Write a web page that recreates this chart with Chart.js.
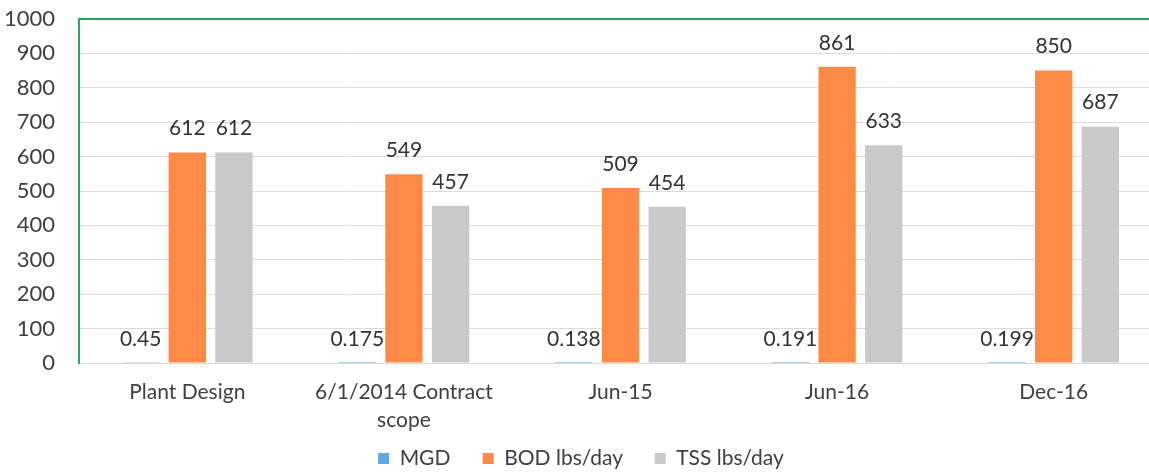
<!DOCTYPE html>
<html>
<head>
<meta charset="utf-8">
<script src="https://cdn.jsdelivr.net/npm/chart.js@4/dist/chart.umd.min.js"></script>
<style>
  html,body{margin:0;padding:0;background:#fff;overflow:hidden;}
  #wrap{width:1162px;height:472px;position:relative;}
</style>
</head>
<body>
<div id="wrap"><canvas id="c"></canvas></div>
<script>
const categories = ["Plant Design", ["6/1/2014 Contract", "scope"], "Jun-15", "Jun-16", "Dec-16"];
const seriesNames = ["MGD", "BOD lbs/day", "TSS lbs/day"];
const mgd = [0.45, 0.175, 0.138, 0.191, 0.199];
const mgdLabels = ["0.45", "0.175", "0.138", "0.191", "0.199"];
const bod = [612, 549, 509, 861, 850];
const tss = [612, 457, 454, 633, 687];
const yTicks = [0, 100, 200, 300, 400, 500, 600, 700, 800, 900, 1000];

const FONT = "Lato, 'Open Sans', sans-serif";
const TEXT = "#404040";

const labelPlugin = {
  id: 'barLabels',
  afterDatasetsDraw(chart) {
    const ctx = chart.ctx;
    ctx.save();
    ctx.font = "21px " + FONT;
    ctx.fillStyle = "#333";
    ctx.textAlign = "center";
    ctx.textBaseline = "middle";
    chart.data.datasets.forEach((ds, di) => {
      const meta = chart.getDatasetMeta(di);
      meta.data.forEach((el, i) => {
        const txt = di === 0 ? mgdLabels[i] : String(ds.data[i]);
        ctx.fillText(txt, el.x, el.y - 24);
      });
    });
    ctx.restore();
  }
};

new Chart(document.getElementById('c'), {
  type: 'bar',
  data: {
    labels: categories,
    datasets: [
      { label: seriesNames[0], data: mgd, backgroundColor: '#5DAAE6' },
      { label: seriesNames[1], data: bod, backgroundColor: '#FF8A48' },
      { label: seriesNames[2], data: tss, backgroundColor: '#C9C9C9' }
    ]
  },
  options: {
    responsive: true,
    maintainAspectRatio: false,
    animation: false,
    layout: { padding: { top: 19, left: 0, right: 0, bottom: -7 } },
    datasets: { bar: { barPercentage: 0.8, categoryPercentage: 0.646 } },
    plugins: {
      tooltip: { enabled: false },
      legend: {
        position: 'bottom',
        labels: {
          font: { family: FONT, size: 21 },
          color: TEXT,
          boxWidth: 11,
          boxHeight: 11,
          padding: 0,
          generateLabels(chart) {
            const items = Chart.defaults.plugins.legend.labels.generateLabels(chart);
            items.forEach((it, i) => { if (i < items.length - 1) it.text = it.text + '\u00a0\u00a0\u00a0\u00a0\u00a0\u00a0'; });
            return items;
          }
        }
      }
    },
    scales: {
      x: {
        afterFit(scale) { scale.height = 85; scale.paddingLeft = 0; scale.paddingRight = 0; },
        grid: { display: false, drawTicks: false },
        border: { display: true, color: '#d9d9d9' },
        ticks: { font: { family: FONT, size: 21, lineHeight: 1.33 }, color: TEXT, padding: 15, maxRotation: 0, autoSkip: false }
      },
      y: {
        min: 0, max: 1000,
        afterBuildTicks(scale) { scale.ticks = yTicks.map(v => ({ value: v })); },
        afterFit(scale) { scale.width = 79; scale.paddingTop = 0; scale.paddingBottom = 0; },
        grid: {
          drawTicks: false,
          color: ctx => (ctx.tick && ctx.tick.value === 1000) ? '#2EA35A' : '#dcdcdc',
          lineWidth: ctx => (ctx.tick && ctx.tick.value === 1000) ? 2 : 1
        },
        border: { display: true, color: '#2EA35A', width: 2 },
        ticks: { font: { family: FONT, size: 22 }, color: TEXT, padding: 24, callback: v => String(v) }
      }
    }
  },
  plugins: [labelPlugin]
});
</script>
</body>
</html>
